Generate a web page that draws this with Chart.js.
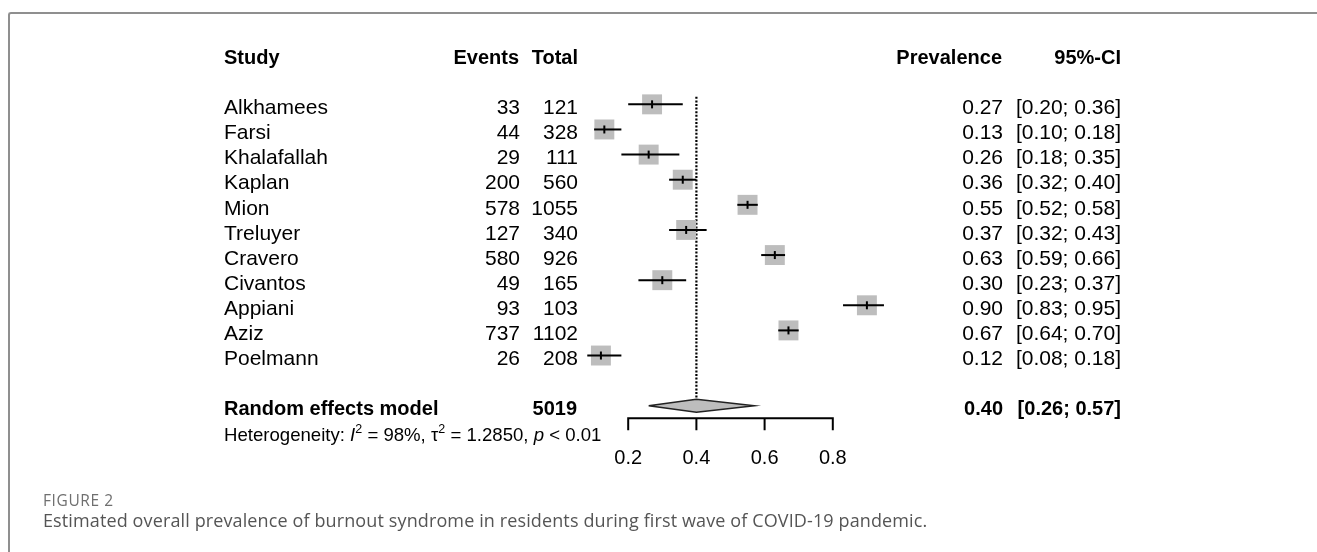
<!DOCTYPE html>
<html lang="en">
<head>
    <meta charset="UTF-8">
    <title>Burnout prevalence forest plot</title>
    <script src="https://cdn.jsdelivr.net/npm/chart.js"></script>
    <style>
        body { margin: 0; background: #fff; }
        #wrap { position: relative; width: 1317px; height: 552px; overflow: hidden; background: #fff; }
        #frame {
            position: absolute; left: 8px; top: 12px; width: 1400px; height: 700px;
            border-top: 2px solid #8f8f8f; border-left: 2px solid #8f8f8f;
            border-top-left-radius: 3px;
        }
        #forest { position: absolute; left: 0; top: 0; }
        .fig-label {
            position: absolute; left: 43px; top: 489px;
            font-family: "Open Sans", sans-serif; font-size: 15.5px; letter-spacing: 0.6px; color: #6f6f6f;
        }
        .fig-caption {
            position: absolute; left: 43px; top: 508px;
            font-family: "Open Sans", sans-serif; font-size: 18px; letter-spacing: 0.12px; color: #555;
        }
    </style>
</head>
<body>
<div id="wrap">
    <div id="frame"></div>
    <canvas id="forest" width="1317" height="552"></canvas>
    <div class="fig-label">FIGURE 2</div>
    <div class="fig-caption">Estimated overall prevalence of burnout syndrome in residents during first wave of COVID-19 pandemic.</div>
</div>

<script>
    // study level data
    const studies = ['Alkhamees', 'Farsi', 'Khalafallah', 'Kaplan', 'Mion', 'Treluyer', 'Cravero', 'Civantos', 'Appiani', 'Aziz', 'Poelmann'];
    const events = [33, 44, 29, 200, 578, 127, 580, 49, 93, 737, 26];
    const totals = [121, 328, 111, 560, 1055, 340, 926, 165, 103, 1102, 208];
    const prevalence = [0.27, 0.13, 0.26, 0.36, 0.55, 0.37, 0.63, 0.30, 0.90, 0.67, 0.12];
    const ciLower = [0.20, 0.10, 0.18, 0.32, 0.52, 0.32, 0.59, 0.23, 0.83, 0.64, 0.08];
    const ciUpper = [0.36, 0.18, 0.35, 0.40, 0.58, 0.43, 0.66, 0.37, 0.95, 0.70, 0.18];

    // pooled random effects result
    const pooledLabel = 'Random effects model';
    const pooledTotal = 5019;
    const pooledEst = 0.40;
    const pooledLower = 0.26;
    const pooledUpper = 0.57;
    const hetI2 = '98%';
    const hetTau2 = '1.2850';
    const hetP = '< 0.01';

    const axisTicks = [0.2, 0.4, 0.6, 0.8];

    // row positions (y scale units)
    const headerRow = -1;
    const pooledRow = 13;
    const hetRow = 14;
    const axisRow = 13.5;

    const FONT = '"Liberation Sans", Arial, sans-serif';
    const fmt2 = v => v.toFixed(2);

    const datasets = [];

    // confidence interval lines
    studies.forEach((s, i) => {
        datasets.push({
            data: [{x: ciLower[i], y: i + 1}, {x: ciUpper[i], y: i + 1}],
            showLine: true,
            borderColor: '#000',
            borderWidth: 2,
            pointRadius: 0,
            order: 2
        });
    });

    // grey weight squares
    datasets.push({
        data: prevalence.map((p, i) => ({x: p, y: i + 1})),
        showLine: false,
        pointStyle: 'rect',
        pointRadius: 14.1,
        pointBackgroundColor: '#bdbdbd',
        pointBorderWidth: 0,
        pointBorderColor: 'rgba(0,0,0,0)',
        order: 3
    });

    // small estimate ticks
    datasets.push({
        data: prevalence.map((p, i) => ({x: p, y: i + 1})),
        showLine: false,
        pointStyle: 'line',
        pointRotation: 90,
        pointRadius: 4,
        pointBorderColor: '#000',
        pointBorderWidth: 2,
        order: 1
    });

    // dotted line at pooled estimate
    datasets.push({
        data: [{x: pooledEst, y: 0.7}, {x: pooledEst, y: 12.74}],
        showLine: true,
        borderColor: '#000',
        borderWidth: 2.2,
        borderDash: [2, 1.6],
        pointRadius: 0,
        order: 4
    });

    // pooled diamond
    datasets.push({
        data: [
            {x: pooledLower, y: pooledRow},
            {x: pooledEst, y: pooledRow - 0.26},
            {x: pooledUpper, y: pooledRow},
            {x: pooledEst, y: pooledRow + 0.26},
            {x: pooledLower, y: pooledRow}
        ],
        showLine: true,
        fill: 'shape',
        backgroundColor: '#bdbdbd',
        borderColor: '#222',
        borderWidth: 1.5,
        pointRadius: 0,
        tension: 0,
        order: 0
    });

    function drawRich(ctx, parts, x, y) {
        // parts: [text, size, style, raise]
        parts.forEach(p => {
            ctx.font = (p[2] || '') + ' ' + p[1] + 'px ' + FONT;
            ctx.fillText(p[0], x, y - (p[3] || 0));
            x += ctx.measureText(p[0]).width;
        });
    }

    const forestText = {
        id: 'forestText',
        afterDraw(chart) {
            const ctx = chart.ctx;
            const xs = chart.scales.x;
            const ys = chart.scales.y;
            const base = r => ys.getPixelForValue(r) + 9.7;

            ctx.save();
            ctx.fillStyle = '#000';
            ctx.textBaseline = 'alphabetic';

            // headers
            ctx.font = 'bold 20px ' + FONT;
            ctx.textAlign = 'left';
            ctx.fillText('Study', 224, base(headerRow));
            ctx.textAlign = 'right';
            ctx.fillText('Events', 519, base(headerRow));
            ctx.fillText('Total', 578, base(headerRow));
            ctx.fillText('Prevalence', 1002, base(headerRow));
            ctx.fillText('95%-CI', 1121, base(headerRow));

            // study rows
            ctx.font = '21px ' + FONT;
            studies.forEach((s, i) => {
                const yb = base(i + 1);
                ctx.textAlign = 'left';
                ctx.fillText(s, 224, yb);
                ctx.textAlign = 'right';
                ctx.fillText(String(events[i]), 520, yb);
                ctx.fillText(String(totals[i]), 578, yb);
                ctx.fillText(fmt2(prevalence[i]), 1003, yb);
                ctx.fillText('[' + fmt2(ciLower[i]) + '; ' + fmt2(ciUpper[i]) + ']', 1121, yb);
            });

            // pooled row
            ctx.font = 'bold 20px ' + FONT;
            ctx.textAlign = 'left';
            ctx.fillText(pooledLabel, 224, base(pooledRow));
            ctx.textAlign = 'right';
            ctx.fillText(String(pooledTotal), 577, base(pooledRow));
            ctx.fillText(fmt2(pooledEst), 1003, base(pooledRow));
            ctx.fillText('[' + fmt2(pooledLower) + '; ' + fmt2(pooledUpper) + ']', 1121, base(pooledRow));

            // heterogeneity
            ctx.textAlign = 'left';
            drawRich(ctx, [
                ['Heterogeneity: ', 18.6],
                ['I', 18.6, 'italic'],
                ['2', 12.5, '', 8],
                [' = ' + hetI2 + ', ', 18.6],
                ['\u03c4', 18.6],
                ['2', 12.5, '', 8],
                [' = ' + hetTau2 + ', ', 18.6],
                ['p', 18.6, 'italic'],
                [' ' + hetP, 18.6]
            ], 224, base(hetRow));

            // x axis
            const ay = ys.getPixelForValue(axisRow);
            const x0 = xs.getPixelForValue(axisTicks[0]);
            const x1 = xs.getPixelForValue(axisTicks[axisTicks.length - 1]);
            ctx.strokeStyle = '#000';
            ctx.lineWidth = 2;
            ctx.beginPath();
            ctx.moveTo(x0, ay);
            ctx.lineTo(x1, ay);
            axisTicks.forEach(t => {
                const tx = xs.getPixelForValue(t);
                ctx.moveTo(tx, ay - 1);
                ctx.lineTo(tx, ay + 12);
            });
            ctx.stroke();
            ctx.font = '20px ' + FONT;
            ctx.textAlign = 'center';
            axisTicks.forEach(t => {
                ctx.fillText(t.toFixed(1), xs.getPixelForValue(t), ay + 46);
            });
            ctx.restore();
        }
    };

    new Chart(document.getElementById('forest'), {
        type: 'scatter',
        data: { datasets: datasets },
        options: {
            responsive: false,
            animation: false,
            devicePixelRatio: 1,
            layout: { padding: { left: 560, right: 416, top: 29, bottom: 96 } },
            plugins: { legend: { display: false }, tooltip: { enabled: false } },
            scales: {
                x: { type: 'linear', min: 0, max: 1, display: false },
                y: { type: 'linear', min: -2, max: 15, reverse: true, display: false }
            }
        },
        plugins: [forestText]
    });
</script>
</body>
</html>
